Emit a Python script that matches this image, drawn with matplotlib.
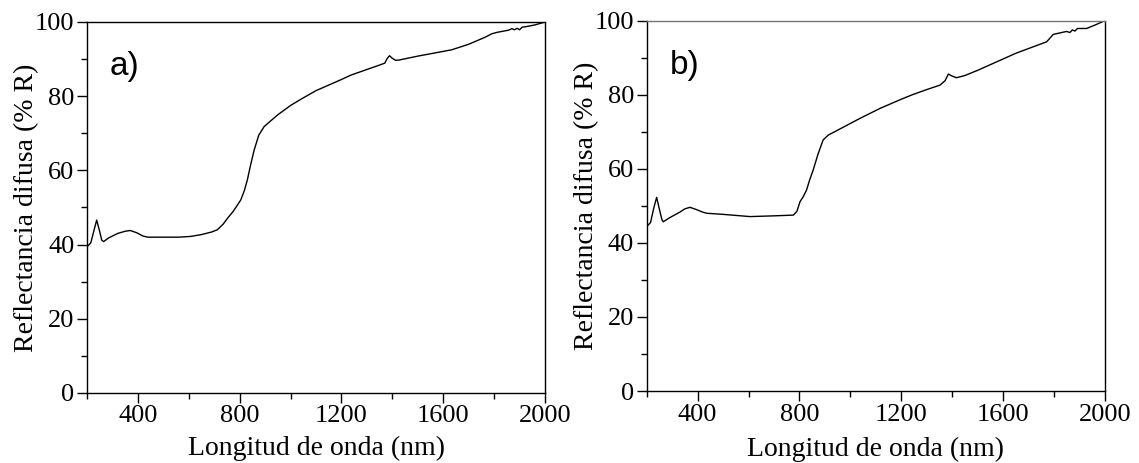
import matplotlib.pyplot as plt

# panel a) spectrum
wl_a = [200, 215, 228, 238, 248, 258, 265, 285, 320, 350, 370, 395, 420, 440,
        500, 560, 607, 650, 690, 712, 735, 751, 775, 804, 818, 830, 843, 857,
        875, 896, 916, 950, 1000, 1041, 1100, 1150, 1200, 1238, 1300, 1350,
        1370, 1380, 1389, 1400, 1412, 1423, 1500, 1633, 1700, 1765, 1790,
        1811, 1857, 1870, 1880, 1890, 1900, 1910, 1922, 1960, 2000]
refl_a = [39.4, 40.5, 44.0, 46.6, 44.0, 41.2, 40.8, 41.8, 43.0, 43.6, 43.8,
          43.2, 42.3, 42.0, 42.0, 42.0, 42.2, 42.7, 43.4, 44.0, 45.5, 47.0,
          49.0, 52.0, 54.5, 57.4, 61.5, 65.5, 69.5, 71.8, 73.0, 75.0, 77.5,
          79.2, 81.5, 83.0, 84.5, 85.7, 87.2, 88.4, 88.9, 90.2, 90.9, 90.2,
          89.7, 89.7, 90.8, 92.5, 94.0, 95.9, 96.8, 97.2, 97.8, 98.2, 97.9,
          98.3, 97.9, 98.6, 98.7, 99.2, 100.0]

# panel b) spectrum
wl_b = [200, 215, 228, 239, 250, 260, 265, 290, 330, 350, 370, 395, 420, 436,
        500, 606, 700, 776, 790, 802, 815, 828, 840, 854, 873, 893, 913, 960,
        1037, 1116, 1200, 1247, 1300, 1352, 1372, 1385, 1398, 1417, 1450,
        1500, 1575, 1650, 1720, 1771, 1797, 1836, 1850, 1862, 1872, 1882,
        1892, 1928, 1960, 2000]
refl_b = [44.4, 45.5, 49.5, 52.3, 49.0, 46.2, 45.7, 46.8, 48.3, 49.2, 49.6,
          49.0, 48.3, 48.0, 47.7, 47.1, 47.3, 47.5, 48.5, 51.1, 52.5, 54.3,
          57.0, 59.7, 64.0, 67.8, 69.1, 70.8, 73.6, 76.3, 78.8, 80.1, 81.4,
          82.6, 83.8, 85.6, 85.1, 84.6, 85.2, 86.6, 88.9, 91.2, 93.0, 94.3,
          96.3, 96.9, 97.1, 96.8, 97.5, 97.2, 97.9, 97.9, 98.8, 100.0]

x_major = [400, 800, 1200, 1600, 2000]
x_minor = [200, 600, 1000, 1400, 1800]
y_major = [0, 20, 40, 60, 80, 100]
y_minor = [10, 30, 50, 70, 90]

plt.rcParams["font.family"] = ["Liberation Serif", "DejaVu Serif"]

fig = plt.figure(figsize=(11.39, 4.63), dpi=100)
ax_a = fig.add_axes([0.0764, 0.1512, 0.4021, 0.8013])
ax_b = fig.add_axes([0.5678, 0.1555, 0.4023, 0.7998])

panels = [(ax_a, wl_a, refl_a, "a)", 6), (ax_b, wl_b, refl_b, "b)", 8)]

for ax, wl, refl, tag, xpad in panels:
    ax.plot(wl, refl, color="black", linewidth=1.0)
    ax.set_xlim(200, 2000)
    ax.set_ylim(0, 100)
    ax.set_xticks(x_major)
    ax.set_xticks(x_minor, minor=True)
    ax.set_yticks(y_major)
    ax.set_yticks(y_minor, minor=True)
    ax.tick_params(which="major", direction="out", length=7, width=1.0,
                   labelsize=19, pad=2)
    ax.tick_params(which="minor", direction="out", length=4, width=1.0)
    for side in ax.spines.values():
        side.set_linewidth(1.0)
    ax.set_xlabel("Longitud de onda (nm)", fontsize=20, labelpad=xpad)
    ax.set_ylabel("Reflectancia difusa (% R)", fontsize=20, labelpad=-3)
    ax.text(290, 88, tag, fontsize=24, family=["Liberation Sans", "DejaVu Sans"],
            va="center", ha="left")

ax_b.spines["top"].set_color("0.45")

fig.savefig("out.png", dpi=100)
plt.close(fig)
